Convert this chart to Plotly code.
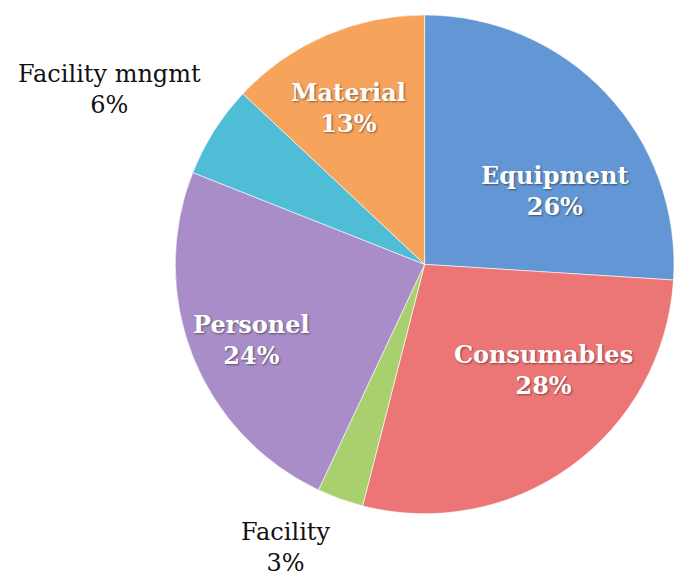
import plotly.graph_objects as go

labels = ["Equipment", "Consumables", "Facility", "Personel", "Facility mngmt", "Material"]
values = [26, 28, 3, 24, 6, 13]
colors = ["#6296d4", "#ec7676", "#a8d06e", "#a98dc8", "#50bdd7", "#f6a35c"]

# label placement (pixels in the 674x581 frame) and whether label is inside a slice
label_pos = {
    "Equipment": (555, 191, True),
    "Consumables": (543, 370, True),
    "Facility": (285, 547, False),
    "Personel": (252, 340, True),
    "Facility mngmt": (109, 90, False),
    "Material": (349, 108, True),
}

W, H = 674, 581

fig = go.Figure(go.Pie(
    labels=labels,
    values=values,
    sort=False,
    direction="clockwise",
    rotation=0,
    textinfo="none",
    marker=dict(colors=colors, line=dict(color="rgba(255,255,255,0.6)", width=1)),
    hoverinfo="none",
    domain=dict(x=[0.26, 1.0], y=[0.108, 0.982]),
    showlegend=False,
))

for l, v in zip(labels, values):
    x, y, ins = label_pos[l]
    if ins:
        font = dict(family="DejaVu Serif", size=24, color="white", weight="bold",
                    shadow="1px 1px 2px rgba(0,0,0,0.45)")
    else:
        font = dict(family="DejaVu Serif", size=24, color="#111111")
    fig.add_annotation(
        x=x / W, y=1 - y / H, xref="paper", yref="paper",
        text=f"{l}<br>{v}%", showarrow=False, font=font,
        xanchor="center", yanchor="middle", align="center",
    )

fig.update_layout(
    width=W, height=H,
    margin=dict(l=0, r=0, t=0, b=0),
    paper_bgcolor="white",
    plot_bgcolor="white",
)

fig.write_html(
    "out.html",
    config={"displayModeBar": False},
    post_script="document.body.style.margin='0';document.body.style.overflow='hidden';",
)
